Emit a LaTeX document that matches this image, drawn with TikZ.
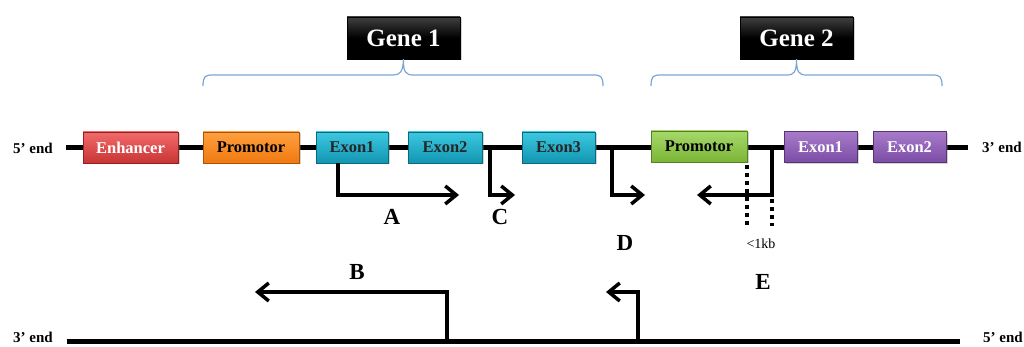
\documentclass[tikz,border=0pt]{standalone}
\usepackage{fontspec}
\setmainfont{Liberation Serif}
\usetikzlibrary{arrows.meta,shadows}

\definecolor{braceblue}{HTML}{79A6D6}
\definecolor{enhtop}{HTML}{F26A6A}\definecolor{enhbot}{HTML}{C93434}
\definecolor{protop}{HTML}{FFA040}\definecolor{probot}{HTML}{F07A10}
\definecolor{extop}{HTML}{3CC8E0}\definecolor{exbot}{HTML}{1296B2}
\definecolor{grtop}{HTML}{A6D86A}\definecolor{grbot}{HTML}{7BB636}
\definecolor{putop}{HTML}{A77BC9}\definecolor{pubot}{HTML}{7C4CA6}

\tikzset{
  seg/.style={draw=#1!70!black, line width=0.6pt, minimum height=31pt,
    inner sep=0pt, font=\fontsize{16.5}{18}\selectfont\bfseries,
    drop shadow={shadow xshift=1.5pt, shadow yshift=-1.5pt, opacity=0.35}},
  enh/.style={seg=enhbot, top color=enhtop, bottom color=enhbot, text=white},
  pro/.style={seg=probot, top color=protop, bottom color=probot, text=black},
  exo/.style={seg=exbot, top color=extop, bottom color=exbot, text=black!85},
  gpro/.style={seg=grbot, top color=grtop, bottom color=grbot, text=black},
  pex/.style={seg=pubot, top color=putop, bottom color=pubot, text=white},
  genebox/.style={draw=black, top color=black!75, bottom color=black,
    middle color=black, minimum width=113pt, minimum height=42pt,
    inner sep=0pt, text=white, font=\fontsize{25}{28}\selectfont\bfseries,
    drop shadow={shadow xshift=1.5pt, shadow yshift=-1.5pt, opacity=0.35}},
  strand/.style={line width=5pt},
  tss/.style={line width=3.5pt, -{Straight Barb[length=11pt,width=18pt]}},
  dots/.style={line width=3.5pt, dash pattern=on 4pt off 4pt},
  brc/.style={draw=braceblue, line width=1.2pt},
  endlbl/.style={font=\fontsize{15}{17}\selectfont\bfseries, inner sep=0pt},
  letter/.style={font=\fontsize{23}{25}\selectfont\bfseries, inner sep=0pt},
}

\begin{document}
\begin{tikzpicture}[x=1pt,y=-1pt]
\useasboundingbox (0,0) rectangle (1024,347);

% ---------- top strand ----------
\coordinate (t5) at (66,148);
\coordinate (t3) at (968,148);
\draw[strand] (t5) -- (t3);
\node[endlbl] (l5top) at (33,148) {5’ end};
\node[endlbl] (l3top) at (1002,147) {3’ end};

\node[enh, minimum width=95pt] (enh) at (130.5,147.5) {Enhancer};
\node[pro, minimum width=96pt] (pro1) at (251,147.5) {Promotor};
\node[exo, minimum width=72pt] (ex11) at (352,147.5) {Exon1};
\node[exo, minimum width=74pt] (ex12) at (445,147.5) {Exon2};
\node[exo, minimum width=73pt] (ex13) at (558.5,147.5) {Exon3};
\node[gpro, minimum width=96pt] (pro2) at (699,146.5) {Promotor};
\node[pex, minimum width=73pt] (ex21) at (820.5,147) {Exon1};
\node[pex, minimum width=73pt] (ex22) at (909.5,147) {Exon2};

% ---------- gene labels and braces ----------
\node[genebox] (g1) at (403.5,38) {Gene 1};
\node[genebox] (g2) at (796.5,38) {Gene 2};

\draw[brc] (203,86) .. controls (203,77) and (205,75) .. (212,75)
  -- (393,75) .. controls (400,75) and (403,72) .. (g1.south)
  (g1.south) .. controls (403,72) and (406,75) .. (413,75)
  -- (594,75) .. controls (601,75) and (603,77) .. (603,86);
\draw[brc] (651,86) .. controls (651,77) and (653,75) .. (660,75)
  -- (787,75) .. controls (794,75) and (796.5,72) .. (g2.south)
  (g2.south) .. controls (796.5,72) and (799,75) .. (806,75)
  -- (933,75) .. controls (940,75) and (942,77) .. (942,86);

% ---------- transcripts on the top strand ----------
\coordinate (aS) at (338,163);  \coordinate (aE) at (459,195);
\coordinate (cS) at (490,148);  \coordinate (cE) at (515,195);
\coordinate (dS) at (612,148);  \coordinate (dE) at (645,195);
\coordinate (eS) at (772,148);  \coordinate (eE) at (697,195);
\draw[tss] (aS) |- (aE);
\draw[tss] (cS) |- (cE);
\draw[tss] (dS) |- (dE);
\draw[tss] (eS) |- (eE);

% distance marks
\coordinate (k1a) at (747,165); \coordinate (k1b) at (747,228);
\coordinate (k2a) at (772,199); \coordinate (k2b) at (772,226);
\draw[dots] (k1a) -- (k1b);
\draw[dots] (k2a) -- (k2b);
\node[font=\fontsize{14}{16}\selectfont, inner sep=0pt] (kb) at (761,244) {<1kb};

\node[letter] (lA) at (392,217) {A};
\node[letter] (lC) at (500,217) {C};
\node[letter] (lD) at (625,243) {D};
\node[letter] (lE) at (763,282) {E};

% ---------- bottom strand ----------
\coordinate (b3) at (67,341);
\coordinate (b5) at (960,341);
\draw[strand] (b3) -- (b5);
\node[endlbl] (l3bot) at (33,337) {3’ end};
\node[endlbl] (l5bot) at (1003,337) {5’ end};

\coordinate (bS) at (447,341); \coordinate (bE) at (255,292);
\coordinate (fS) at (638,341); \coordinate (fE) at (606,292);
\draw[tss] (bS) |- (bE);
\draw[tss] (fS) |- (fE);
\node[letter] (lB) at (357,272) {B};
\end{tikzpicture}
\end{document}
